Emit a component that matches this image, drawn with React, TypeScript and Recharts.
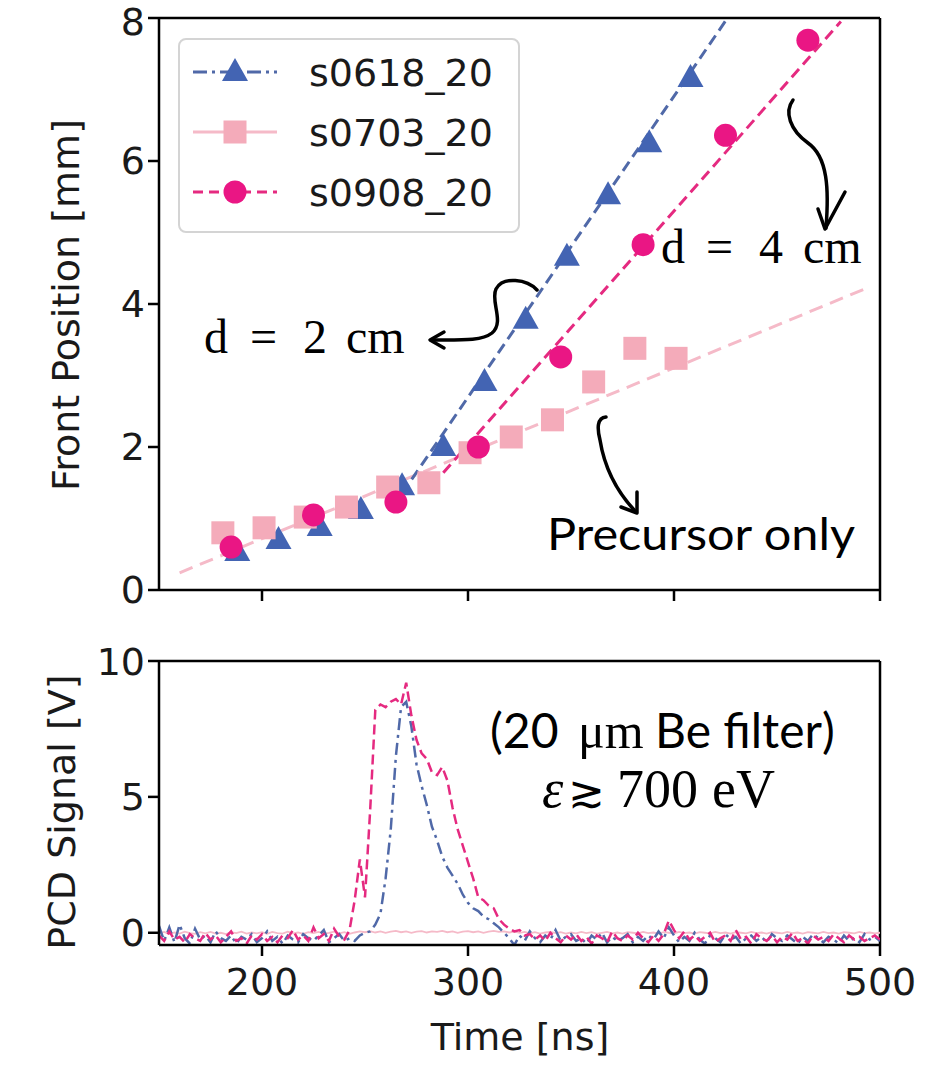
import React from "react";
import { ComposedChart, Line, XAxis, YAxis, ReferenceLine, Legend } from "recharts";

// front position markers (time ns, position mm)
const S0618_T = [188, 208, 228, 248, 268, 288, 308, 328, 348, 368, 388, 408];
const S0618_V = [0.53, 0.7, 0.88, 1.12, 1.45, 2.0, 2.91, 3.78, 4.66, 5.52, 6.25, 7.16];
const S0703_T = [181, 201, 221, 241, 261, 281, 301, 321, 341, 361, 381, 401];
const S0703_V = [0.8, 0.87, 1.02, 1.16, 1.44, 1.5, 1.92, 2.14, 2.38, 2.91, 3.38, 3.24];
const S0908_T = [185, 225, 265, 305, 345, 385, 425, 465];
const S0908_V = [0.6, 1.05, 1.23, 2.0, 3.26, 4.83, 6.36, 7.69];

// linear fits
const FIT_2CM_T = [268, 426];
const FIT_2CM_V = [1.35, 8.0];
const FIT_4CM_T = [288, 481];
const FIT_4CM_V = [1.64, 7.95];
const FIT_PRE_T = [160, 495];
const FIT_PRE_V = [0.24, 4.24];

// PCD traces
const PCD_T = [
  150, 152.5, 155, 157.5, 160, 162.5, 165, 167.5, 170, 172.5,
  175, 177.5, 180, 182.5, 185, 187.5, 190, 192.5, 195, 197.5,
  200, 202.5, 205, 207.5, 210, 212.5, 215, 217.5, 220, 222.5,
  225, 227.5, 230, 232.5, 235, 237.5, 240, 242.5, 245, 247.5,
  250, 252.5, 255, 257.5, 260, 262.5, 265, 267.5, 270, 272.5,
  275, 277.5, 280, 282.5, 285, 287.5, 290, 292.5, 295, 297.5,
  300, 302.5, 305, 307.5, 310, 312.5, 315, 317.5, 320, 322.5,
  325, 327.5, 330, 332.5, 335, 337.5, 340, 342.5, 345, 347.5,
  350, 352.5, 355, 357.5, 360, 362.5, 365, 367.5, 370, 372.5,
  375, 377.5, 380, 382.5, 385, 387.5, 390, 392.5, 395, 397.5,
  400, 402.5, 405, 407.5, 410, 412.5, 415, 417.5, 420, 422.5,
  425, 427.5, 430, 432.5, 435, 437.5, 440, 442.5, 445, 447.5,
  450, 452.5, 455, 457.5, 460, 462.5, 465, 467.5, 470, 472.5,
  475, 477.5, 480, 482.5, 485, 487.5, 490, 492.5, 495, 497.5,
  500,
];
const PCD_S0618 = [
  0.25, -0.3, 0.2, -0.35, 0.3, -0.2, -0.4, 0.15, -0.25, -0.1,
  -0.35, 0.05, -0.2, -0.3, -0.1, -0.4, -0.15, -0.25, -0.05, -0.35,
  -0.2, 0.05, -0.3, -0.15, -0.4, -0.1, -0.25, -0.35, -0.05, -0.2,
  -0.3, -0.1, 0.1, -0.35, -0.2, -0.05, -0.3, -0.2, -0.3, -0.1,
  0.0, 0.05, 0.3, 0.7, 2.0, 3.8, 6.5, 8.3, 8.5, 7.6,
  6.2, 5.4, 4.7, 3.9, 3.4, 2.8, 2.4, 2.1, 1.8, 1.4,
  1.1, 0.9, 0.8, 0.6, 0.5, 0.35, 0.2, 0.0, -0.2, -0.45,
  -0.1, -0.3, 0.05, -0.2, -0.35, -0.1, -0.25, 0.1, -0.3, -0.15,
  -0.05, -0.3, -0.2, -0.4, -0.1, -0.25, 0.0, -0.35, -0.15, -0.3,
  -0.2, -0.05, -0.35, -0.15, -0.3, -0.1, -0.25, 0.05, -0.2, 0.2,
  -0.1, -0.35, -0.15, -0.3, 0.0, -0.25, -0.4, -0.1, -0.2, -0.35,
  -0.05, -0.25, -0.15, -0.4, -0.2, -0.1, -0.3, -0.15, -0.35, -0.05,
  -0.2, -0.3, -0.1, -0.25, -0.4, -0.15, -0.3, -0.05, -0.2, -0.35,
  -0.15, -0.25, -0.4, -0.1, -0.3, -0.2, -0.35, -0.05, -0.25, -0.15,
  -0.3,
];
const PCD_S0703 = [
  -0.02, 0.03, -0.05, 0.01, -0.03, 0.04, -0.01, -0.04, 0.02, -0.02,
  0.03, -0.03, 0.0, -0.05, 0.02, -0.01, 0.04, -0.03, 0.01, -0.02,
  0.02, -0.04, 0.03, -0.01, -0.03, 0.04, -0.02, 0.01, -0.04, 0.02,
  -0.01, 0.03, -0.03, 0.0, 0.04, -0.02, 0.02, -0.04, 0.01, 0.05,
  0.02, 0.06, 0.01, 0.05, 0.0, 0.04, 0.07, 0.02, 0.05, 0.0,
  0.04, 0.06, 0.01, 0.05, 0.03, 0.07, 0.02, 0.05, 0.0, 0.04,
  0.06, 0.02, 0.05, 0.0, 0.04, 0.07, 0.03, 0.05, 0.01, 0.04,
  0.0, 0.03, -0.02, 0.02, -0.03, 0.01, 0.03, -0.01, 0.02, -0.03,
  0.01, -0.02, 0.03, -0.01, 0.02, -0.03, 0.0, 0.03, -0.02, 0.01,
  -0.03, 0.02, 0.0, -0.02, 0.03, -0.01, 0.01, -0.03, 0.02, 0.0,
  -0.02, 0.03, -0.01, 0.01, -0.03, 0.02, 0.0, -0.02, 0.03, -0.01,
  0.01, -0.03, 0.02, 0.0, -0.02, 0.03, -0.01, 0.01, -0.03, 0.02,
  0.0, -0.02, 0.03, -0.01, 0.01, -0.03, 0.02, 0.0, -0.02, 0.03,
  -0.01, 0.01, -0.03, 0.02, 0.0, -0.02, 0.03, -0.01, 0.01, -0.02,
  0.0,
];
const PCD_S0908 = [
  -0.1, -0.3, 0.05, -0.25, -0.15, -0.35, -0.05, -0.2, -0.3, 0.0,
  -0.25, -0.1, -0.35, -0.15, 0.05, -0.3, -0.2, -0.4, -0.1, -0.25,
  -0.05, -0.3, -0.15, -0.35, -0.1, -0.2, 0.1, -0.25, -0.1, -0.3,
  0.2, -0.2, -0.05, -0.3, 0.15, -0.15, -0.25, 0.1, 1.2, 2.7,
  1.3, 4.5, 8.2, 8.4, 8.3, 8.5, 8.6, 8.4, 9.2, 8.0,
  7.1, 6.6, 6.4, 5.9, 5.8, 6.1, 5.6, 4.6, 3.8, 3.2,
  2.6, 2.0, 1.3, 1.2, 1.0, 0.9, 0.5, 0.3, 0.15, 0.05,
  0.1, -0.1, -0.05, -0.25, -0.1, -0.3, 0.0, -0.2, -0.35, -0.1,
  -0.25, -0.05, -0.3, -0.15, -0.4, -0.1, -0.2, -0.35, 0.05, -0.2,
  -0.3, -0.1, -0.25, 0.0, -0.2, -0.35, -0.1, -0.3, -0.05, 0.45,
  0.1, -0.2, 0.05, -0.25, -0.1, -0.3, -0.15, 0.0, -0.35, -0.2,
  -0.1, -0.3, 0.1, -0.25, -0.15, -0.4, -0.05, -0.2, -0.3, -0.1,
  -0.35, -0.15, -0.25, 0.0, -0.3, -0.2, -0.4, -0.1, -0.25, -0.15,
  -0.3, -0.05, -0.2, -0.35, -0.1, -0.25, -0.15, -0.3, -0.2, -0.1,
  -0.25,
];

const SERIES_NAMES = ["s0618_20", "s0703_20", "s0908_20"];
const X_TICKS = [200, 300, 400, 500];
const FRONT_TICKS = [0, 2, 4, 6, 8];
const PCD_TICKS = [0, 5, 10];

const BLUE = "#4364b3";
const BLUE_LINE = "#5069a8";
const PINK = "#f4abba";
const PINK_LINE = "#f5bac8";
const MAGENTA = "#ea1684";
const MAGENTA_LINE = "#e52a80";

const SANS = "DejaVu Sans";
const SERIF = "Liberation Serif, DejaVu Serif, serif";
const TEXT_SANS = "Lato, Open Sans, sans-serif";

const toPoints = (ts: number[], vs: number[]) => ts.map((t, i) => ({ t, v: vs[i] }));

const tri = toPoints(S0618_T, S0618_V);
const sq = toPoints(S0703_T, S0703_V);
const cir = toPoints(S0908_T, S0908_V);
const fit2 = toPoints(FIT_2CM_T, FIT_2CM_V);
const fit4 = toPoints(FIT_4CM_T, FIT_4CM_V);
const fitPre = toPoints(FIT_PRE_T, FIT_PRE_V);

const pcdData = PCD_T.map((t, i) => ({
  t,
  a: PCD_S0618[i],
  b: PCD_S0703[i],
  c: PCD_S0908[i],
}));

function triPath(cx: number, cy: number) {
  return `M${cx},${cy - 14} L${cx + 13},${cy + 9} L${cx - 13},${cy + 9} Z`;
}

const triDot = (p: any) =>
  p.cx == null ? null : <path key={`t${p.index}`} d={triPath(p.cx, p.cy)} fill={BLUE} />;
const sqDot = (p: any) =>
  p.cx == null ? null : (
    <rect key={`s${p.index}`} x={p.cx - 11.5} y={p.cy - 11.5} width={23} height={23} fill={PINK} />
  );
const cirDot = (p: any) =>
  p.cx == null ? null : <circle key={`c${p.index}`} cx={p.cx} cy={p.cy} r={11.5} fill={MAGENTA} />;

const axisTick = { fill: "#1a1a1a", fontSize: 38, fontFamily: SANS };

function LegendBox() {
  const rows = [
    { y: 34, stroke: BLUE_LINE, dash: "14 5 3 5", marker: <path d={triPath(57, 34)} fill={BLUE} /> },
    { y: 94, stroke: PINK_LINE, dash: undefined, marker: <rect x={45.5} y={82.5} width={23} height={23} fill={PINK} /> },
    { y: 154, stroke: MAGENTA_LINE, dash: "10 6", marker: <circle cx={57} cy={154} r={11.5} fill={MAGENTA} /> },
  ];
  return (
    <svg width={342} height={195} style={{ display: "block" }}>
      <rect x={1} y={1} width={340} height={193} rx={7} fill="#fff" fillOpacity={0.85} stroke="#d4d4d4" strokeWidth={2} />
      {rows.map((r, i) => (
        <g key={SERIES_NAMES[i]}>
          <line x1={15} x2={99} y1={r.y} y2={r.y} stroke={r.stroke} strokeWidth={3} strokeDasharray={r.dash} />
          {r.marker}
          <text x={131} y={r.y + 14} fontSize={38} fontFamily={SANS} fill="#1a1a1a">
            {SERIES_NAMES[i]}
          </text>
        </g>
      ))}
    </svg>
  );
}

function FrontChart() {
  return (
    <ComposedChart width={943} height={620} margin={{ top: 18, right: 63, bottom: 0, left: 0 }}>
      <XAxis
        type="number"
        dataKey="t"
        domain={[150, 500]}
        ticks={X_TICKS}
        allowDataOverflow
        height={30}
        tickSize={11}
        tickFormatter={() => ""}
        axisLine={{ stroke: "#000", strokeWidth: 2.5 }}
        tickLine={{ stroke: "#000", strokeWidth: 2.5 }}
      />
      <YAxis
        type="number"
        domain={[0, 8]}
        ticks={FRONT_TICKS}
        allowDataOverflow
        width={159}
        tickSize={11}
        tickMargin={3}
        tick={axisTick}
        axisLine={{ stroke: "#000", strokeWidth: 2.5 }}
        tickLine={{ stroke: "#000", strokeWidth: 2.5 }}
        label={{
          content: () => (
            <text
              x={66}
              y={305}
              transform="rotate(-90 66 305)"
              textAnchor="middle"
              dominantBaseline="central"
              fontSize={38}
              fontFamily={SANS}
              fill="#1a1a1a"
            >
              Front Position [mm]
            </text>
          ),
        }}
      />
      <ReferenceLine y={8} stroke="#000" strokeWidth={2.5} />
      <ReferenceLine x={500} stroke="#000" strokeWidth={2.5} />
      <Line data={tri} dataKey="v" stroke="none" dot={triDot} legendType="none" isAnimationActive={false} />
      <Line data={sq} dataKey="v" stroke="none" dot={sqDot} legendType="none" isAnimationActive={false} />
      <Line data={cir} dataKey="v" stroke="none" dot={cirDot} legendType="none" isAnimationActive={false} />
      <Line data={fitPre} dataKey="v" stroke={PINK_LINE} strokeWidth={3} strokeDasharray="14 8" dot={false} legendType="none" isAnimationActive={false} />
      <Line data={fit2} dataKey="v" stroke={BLUE_LINE} strokeWidth={3} strokeDasharray="11 6" dot={false} legendType="none" isAnimationActive={false} />
      <Line data={fit4} dataKey="v" stroke={MAGENTA_LINE} strokeWidth={3} strokeDasharray="11 6" dot={false} legendType="none" isAnimationActive={false} />
      <Legend
        layout="vertical"
        align="center"
        verticalAlign="middle"
        content={() => <LegendBox />}
        wrapperStyle={{ position: "absolute", left: 178, top: 38, width: 342, height: 195 }}
      />
    </ComposedChart>
  );
}

function PcdChart() {
  return (
    <ComposedChart data={pcdData} width={943} height={428} margin={{ top: 21, right: 63, bottom: 0, left: 0 }}>
      <XAxis
        type="number"
        dataKey="t"
        domain={[150, 500]}
        ticks={X_TICKS}
        allowDataOverflow
        height={123}
        tickSize={11}
        tickMargin={12}
        tick={axisTick}
        axisLine={{ stroke: "#000", strokeWidth: 2.5 }}
        tickLine={{ stroke: "#000", strokeWidth: 2.5 }}
        label={{
          content: () => (
            <text x={520} y={410} textAnchor="middle" fontSize={38} fontFamily={SANS} fill="#1a1a1a">
              Time [ns]
            </text>
          ),
        }}
      />
      <YAxis
        type="number"
        domain={[-0.45, 10]}
        ticks={PCD_TICKS}
        allowDataOverflow
        width={159}
        tickSize={11}
        tickMargin={3}
        tick={axisTick}
        axisLine={{ stroke: "#000", strokeWidth: 2.5 }}
        tickLine={{ stroke: "#000", strokeWidth: 2.5 }}
        label={{
          content: () => (
            <text
              x={62}
              y={172}
              transform="rotate(-90 62 172)"
              textAnchor="middle"
              dominantBaseline="central"
              fontSize={38}
              fontFamily={SANS}
              fill="#1a1a1a"
            >
              PCD Signal [V]
            </text>
          ),
        }}
      />
      <ReferenceLine y={10} stroke="#000" strokeWidth={2.5} />
      <ReferenceLine x={500} stroke="#000" strokeWidth={2.5} />
      <Line dataKey="b" stroke={PINK_LINE} strokeWidth={1.8} dot={false} isAnimationActive={false} />
      <Line dataKey="a" stroke={BLUE_LINE} strokeWidth={2.5} strokeDasharray="12 5 3 5" dot={false} isAnimationActive={false} />
      <Line dataKey="c" stroke={MAGENTA_LINE} strokeWidth={2.5} strokeDasharray="10 5" dot={false} isAnimationActive={false} />
    </ComposedChart>
  );
}

function Notes() {
  const pen = { fill: "none", stroke: "#000", strokeWidth: 3.5, strokeLinecap: "round" as const, strokeLinejoin: "round" as const };
  const math = { fontSize: 48, fontFamily: SERIF, fill: "#000" };
  return (
    <svg width={943} height={1068} style={{ position: "absolute", left: 0, top: 0, pointerEvents: "none" }}>
      <text y={353} {...math}>
        <tspan x={204}>d</tspan>
        <tspan x={250}>=</tspan>
        <tspan x={303}>2</tspan>
        <tspan x={346}>cm</tspan>
      </text>
      <path d="M537,290 C527,279 503,276 496,289 C490,301 505,322 492,333 C482,341 462,340 432,340" {...pen} />
      <path d="M444,332 L430,340 L444,348" {...pen} />

      <text y={263} {...math}>
        <tspan x={661}>d</tspan>
        <tspan x={706}>=</tspan>
        <tspan x={759}>4</tspan>
        <tspan x={803}>cm</tspan>
      </text>
      <path d="M793,100 C784,112 790,130 808,143 C828,157 829,190 826,228" {...pen} />
      <path d="M818,209 L825,229 L845,192" {...pen} />

      <text x={547} y={550} fontSize={44} fontFamily={TEXT_SANS} textLength={308} lengthAdjust="spacingAndGlyphs">
        Precursor only
      </text>
      <path d="M606,417 C597,418 597,428 600,440 C604,465 615,490 636,512" {...pen} />
      <path d="M621,507 L637,513 L637,492" {...pen} />

      <text y={748} fontSize={48} fontFamily={TEXT_SANS}>
        <tspan x={490}>(20</tspan>
        <tspan x={578} fontFamily={SERIF} fontSize={50}>μm</tspan>
        <tspan x={655}>Be filter)</tspan>
      </text>
      <text y={807} {...math} fontSize={54}>
        <tspan x={542} fontStyle="italic">ε</tspan>
        <tspan x={568} fontFamily="DejaVu Serif" fontSize={44}>≳</tspan>
        <tspan x={617}>700</tspan>
        <tspan x={712}>eV</tspan>
      </text>
    </svg>
  );
}

export default function App() {
  return (
    <div style={{ position: "absolute", left: 0, top: 0, width: 943, height: 1068, background: "#fff" }}>
      <div style={{ position: "absolute", left: 0, top: 0 }}>
        <FrontChart />
      </div>
      <div style={{ position: "absolute", left: 0, top: 640 }}>
        <PcdChart />
      </div>
      <Notes />
    </div>
  );
}
